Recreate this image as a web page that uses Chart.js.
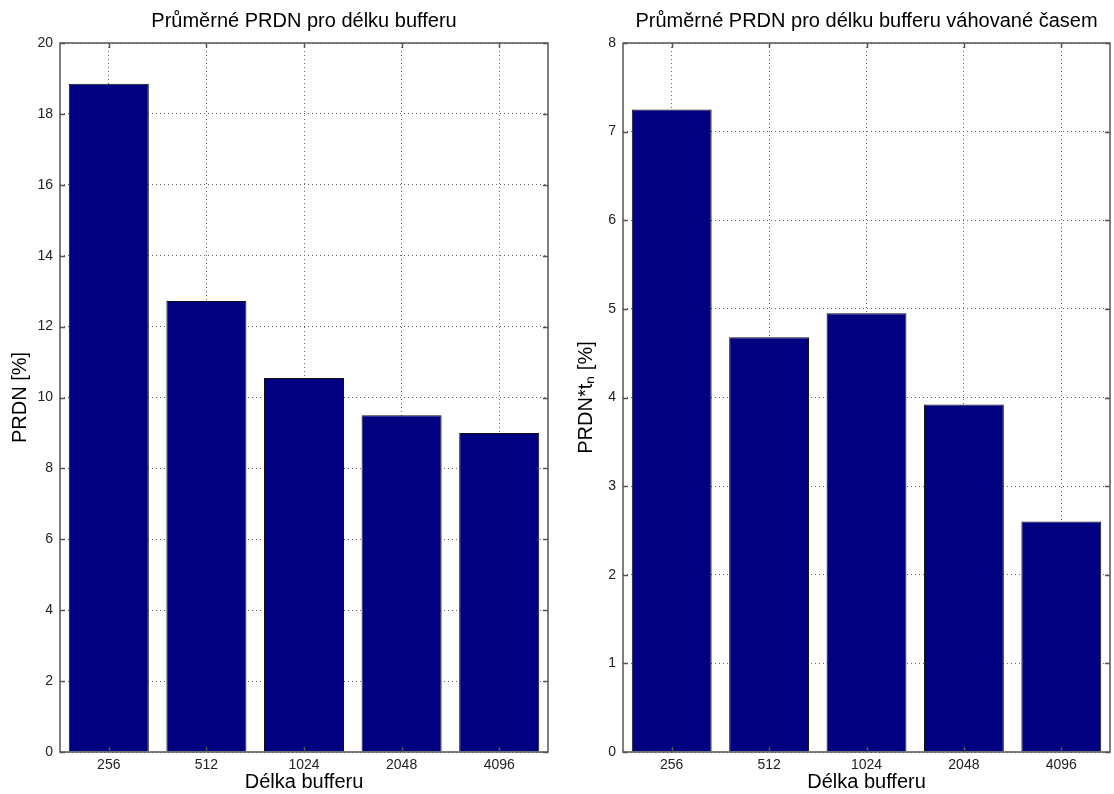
<!DOCTYPE html>
<html>
<head>
<meta charset="utf-8">
<script src="https://cdn.jsdelivr.net/npm/chart.js@4"></script>
<style>
  body { margin: 0; background: #fff; }
  canvas { position: absolute; top: 0; }
  #leftChart { left: 0; }
  #rightChart { left: 560px; }
</style>
</head>
<body>
<canvas id="leftChart" width="560" height="794"></canvas>
<canvas id="rightChart" width="554" height="794"></canvas>
<script>
// data
const bufferLengths = ['256', '512', '1024', '2048', '4096'];
const prdnMean = [18.85, 12.72, 10.55, 9.5, 9.0];
const prdnWeighted = [7.25, 4.68, 4.95, 3.92, 2.6];
const leftTicks = { max: 20, step: 2 };
const rightTicks = { max: 8, step: 1 };

const fontFamily = "Arial, 'Liberation Sans', Helvetica, sans-serif";

// matlab-like frame with inward ticks
const boxPlugin = {
    id: 'box',
    afterDatasetsDraw(chart) {
        const { ctx, chartArea: a, scales } = chart;
        ctx.save();
        ctx.strokeStyle = '#555';
        ctx.lineWidth = 1.5;
        ctx.beginPath();
        scales.y.ticks.forEach(t => {
            const y = Math.round(scales.y.getPixelForValue(t.value)) + 0.5;
            ctx.moveTo(a.left, y); ctx.lineTo(a.left + 5, y);
            ctx.moveTo(a.right, y); ctx.lineTo(a.right - 5, y);
        });
        scales.x.ticks.forEach((t, i) => {
            const x = Math.round(scales.x.getPixelForValue(i)) + 0.5;
            ctx.moveTo(x, a.bottom); ctx.lineTo(x, a.bottom - 5);
            ctx.moveTo(x, a.top); ctx.lineTo(x, a.top + 5);
        });
        ctx.stroke();
        ctx.strokeRect(a.left, a.top, a.right - a.left, a.bottom - a.top);
        ctx.restore();
    }
};

function makeChart(id, values, ticks, title, yTitle, yWidth, yTitlePad, padRight) {
    new Chart(document.getElementById(id), {
        type: 'bar',
        data: {
            labels: bufferLengths,
            datasets: [{
                data: values,
                backgroundColor: '#000080',
                borderColor: '#111',
                borderWidth: 1,
                categoryPercentage: 1,
                barPercentage: 0.82
            }]
        },
        options: {
            responsive: false,
            animation: false,
            layout: { padding: { left: 0, right: padRight, top: 0, bottom: 0 } },
            plugins: {
                legend: { display: false },
                tooltip: { enabled: false },
                title: {
                    display: true,
                    text: title,
                    fullSize: false,
                    color: '#000',
                    font: { family: fontFamily, size: 20, weight: 'normal' },
                    padding: { top: 9, bottom: 10 }
                }
            },
            scales: {
                x: {
                    grid: { offset: false, drawTicks: false, color: '#666', lineWidth: 1 },
                    border: { display: false, dash: [1, 3] },
                    ticks: { color: '#222', padding: 5, font: { family: fontFamily, size: 14 } },
                    title: {
                        display: true, text: 'Délka bufferu', color: '#000',
                        font: { family: fontFamily, size: 20 }, padding: { top: 0, bottom: 0 }
                    },
                    afterFit: s => { s.height = 42; }
                },
                y: {
                    min: 0,
                    max: ticks.max,
                    grid: { drawTicks: false, color: '#666', lineWidth: 1 },
                    border: { display: false, dash: [1, 3] },
                    ticks: { stepSize: ticks.step, color: '#222', padding: 7, font: { family: fontFamily, size: 14 } },
                    title: {
                        display: true, text: yTitle, color: '#000',
                        font: { family: fontFamily, size: 20 }, padding: { top: yTitlePad, bottom: 0 }
                    },
                    afterFit: s => { s.width = yWidth; }
                }
            }
        },
        plugins: [boxPlugin]
    });
}

makeChart('leftChart', prdnMean, leftTicks, 'Průměrné PRDN pro délku bufferu', 'PRDN [%]', 60, 8, 12);
makeChart('rightChart', prdnWeighted, rightTicks, 'Průměrné PRDN pro délku bufferu váhované časem', 'PRDN*tₙ [%]', 63, 14, 4);
</script>
</body>
</html>
